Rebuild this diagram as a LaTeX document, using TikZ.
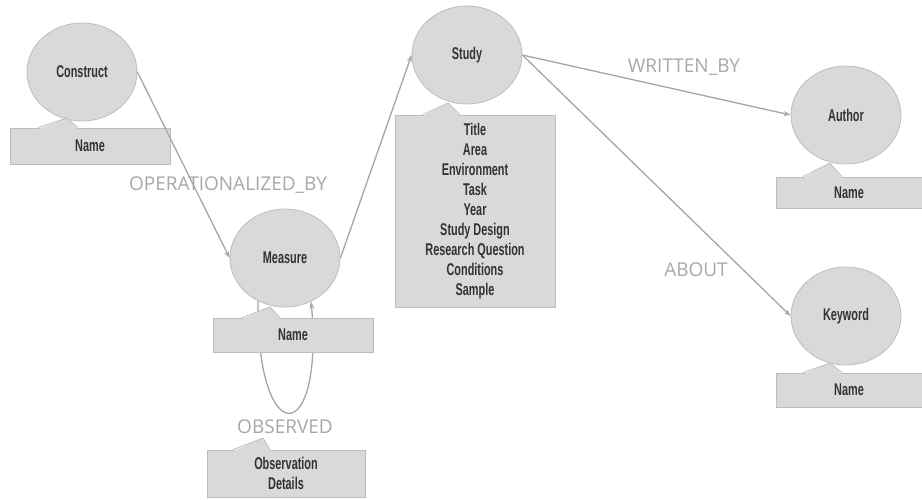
\documentclass[tikz,border=0pt]{standalone}
\usepackage{fontspec}
\usepackage{tikz}
\usetikzlibrary{arrows.meta,positioning,calc,shapes.geometric}
\newfontfamily\condfont[FakeStretch=0.64]{Liberation Sans Bold}
\newfontfamily\labfont{Open Sans}
\definecolor{entfill}{HTML}{D9D9D9}
\definecolor{entline}{HTML}{BDBDBD}
\definecolor{relline}{HTML}{A6A6A6}
\definecolor{labgray}{HTML}{A8A8A8}
\definecolor{entext}{HTML}{333333}
\tikzset{
  entity/.style={draw=entline, fill=entfill, ellipse, minimum width=110pt, minimum height=98pt, inner sep=0pt, line width=0.8pt, text=entext, font=\condfont\fontsize{17}{20}\selectfont},
  propbox/.style={draw=entline, fill=entfill, rectangle, inner sep=0pt, line width=0.8pt, align=center, text=entext, font=\condfont\fontsize{17}{20}\selectfont},
  rel/.style={-{Stealth[length=7pt,width=5pt]}, draw=relline, line width=1.3pt},
  rellabel/.style={text=labgray, inner sep=0pt, font=\labfont\fontsize{19}{22}\selectfont},
}
\newcommand{\boxtab}[4]{%
  \fill[entfill] ($(#1.north -| #3,0)+(0,1.5)$) -- (#2) -- ($(#1.north -| #4,0)+(0,1.5)$) -- cycle;
  \draw[entline, line width=0.8pt] (#1.north -| #3,0) -- (#2) -- (#1.north -| #4,0);
}
\begin{document}
\begin{tikzpicture}[x=1pt, y=-1pt]
  \useasboundingbox (0,0) rectangle (922,499);

  \node[entity] (construct) at (82,72)  {Construct};
  \node[entity] (measure)   at (285,258) {Measure};
  \node[entity] (study)     at (467,55)  {Study};
  \node[entity] (author)    at (846,115) {Author};
  \node[entity] (keyword)   at (846,316) {Keyword};

  \draw[rel] (measure.238) .. controls (256,450) and (324,450) .. (measure.301);

  \node[propbox, minimum width=160pt, minimum height=36pt] (constructname) at (90,146) {Name};
  \node[propbox, minimum width=160pt, minimum height=34pt] (measurename) at (293,335) {Name};
  \node[propbox, minimum width=158pt, minimum height=47pt] (obsdetails) at (286,473.5) {Observation\\Details};
  \node[propbox, minimum width=160pt, minimum height=192pt] (studyprops) at (475,211)
    {Title\\Area\\Environment\\Task\\Year\\Study Design\\Research Question\\Conditions\\Sample};
  \node[propbox, minimum width=146pt, minimum height=31pt] (authorname) at (849,192.5) {Name};
  \node[propbox, minimum width=146pt, minimum height=34pt] (keywordname) at (849,390) {Name};

  \boxtab{constructname}{67,118}{38}{78}
  \boxtab{measurename}{270,307}{242}{280}
  \boxtab{obsdetails}{263,438}{233}{270}
  \boxtab{studyprops}{448,103}{423}{460}
  \boxtab{authorname}{830,163}{803}{842}
  \boxtab{keywordname}{830,363}{803}{842}

  \draw[rel] (construct.east) -- (measure.west);
  \draw[rel] (measure.east) -- (study.west);
  \draw[rel] (study.east) -- (author.west);
  \draw[rel] (study.east) -- (keyword.west);

  \node[rellabel] (oplabel)  at (228,185) {OPERATIONALIZED\_BY};
  \node[rellabel] (wblabel)  at (684,67)  {WRITTEN\_BY};
  \node[rellabel] (ablabel)  at (696,270) {ABOUT};
  \node[rellabel] (oblabel)  at (285,427) {OBSERVED};
\end{tikzpicture}
\end{document}
